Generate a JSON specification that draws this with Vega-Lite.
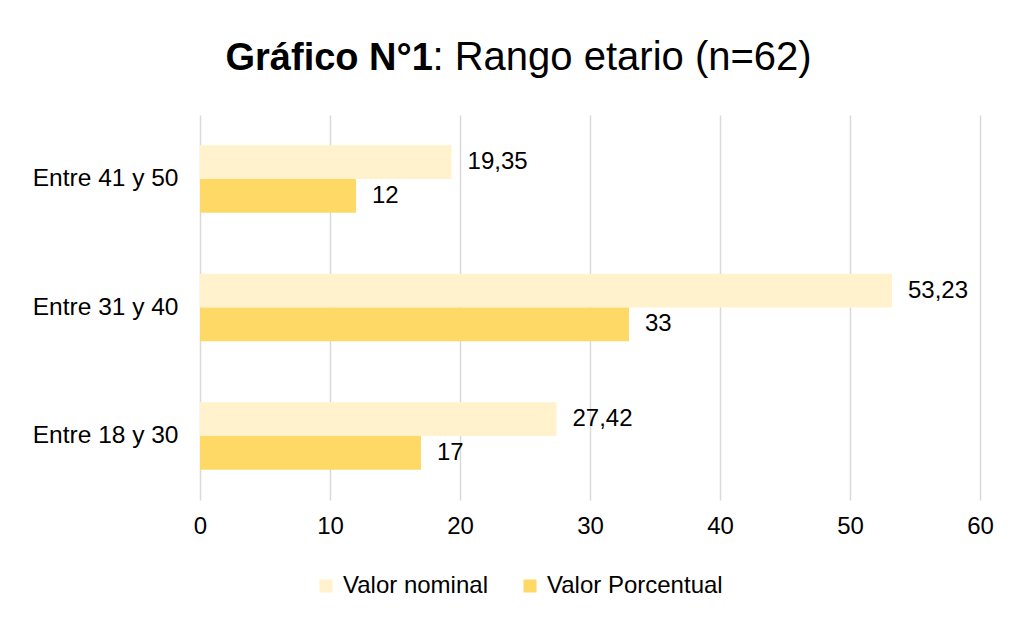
{
  "$schema": "https://vega.github.io/schema/vega-lite/v6.json",
  "autosize": {"type": "none"},
  "width": 780,
  "height": 385,
  "padding": {"left": 200, "top": 115, "right": 34, "bottom": 117},
  "background": "white",
  "config": {
    "font": "Liberation Sans",
    "view": {"stroke": null},
    "locale": {"number": {"decimal": ",", "thousands": ".", "grouping": [3], "currency": ["", " €"]}}
  },
  "data": {
    "values": [
      {"rango": "Entre 41 y 50", "serie": "Valor nominal", "valor": 19.35},
      {"rango": "Entre 41 y 50", "serie": "Valor Porcentual", "valor": 12},
      {"rango": "Entre 31 y 40", "serie": "Valor nominal", "valor": 53.23},
      {"rango": "Entre 31 y 40", "serie": "Valor Porcentual", "valor": 33},
      {"rango": "Entre 18 y 30", "serie": "Valor nominal", "valor": 27.42},
      {"rango": "Entre 18 y 30", "serie": "Valor Porcentual", "valor": 17}
    ]
  },
  "encoding": {
    "y": {
      "field": "rango",
      "type": "nominal",
      "sort": ["Entre 41 y 50", "Entre 31 y 40", "Entre 18 y 30"],
      "scale": {"paddingInner": 0.475, "paddingOuter": 0.235},
      "axis": {
        "title": ": Rango etario (n=62)",
        "titleAngle": 0,
        "titleX": 232,
        "titleY": -46,
        "titleAlign": "left",
        "titleBaseline": "alphabetic",
        "titleFontWeight": "normal",
        "titleFontSize": 40,
        "titleColor": "#000000",
        "domain": false,
        "ticks": false,
        "tickSize": 0,
        "labelPadding": 22,
        "labelFontSize": 24.5,
        "labelColor": "#000000",
        "labelLimit": 300
      }
    },
    "yOffset": {"field": "serie", "sort": ["Valor nominal", "Valor Porcentual"], "scale": {"paddingInner": 0}},
    "x": {
      "field": "valor",
      "type": "quantitative",
      "scale": {"domain": [0, 60], "nice": false},
      "axis": {
        "values": [0, 10, 20, 30, 40, 50, 60],
        "title": "Gráfico N°1",
        "titleFontWeight": "bold",
        "titleFontSize": 38,
        "titleX": 25,
        "titleY": -431,
        "titleAlign": "left",
        "titleBaseline": "alphabetic",
        "titleColor": "#000000",
        "domain": false,
        "ticks": false,
        "tickSize": 0,
        "labelFontSize": 24,
        "labelColor": "#000000",
        "labelPadding": 14,
        "labelFlush": false,
        "grid": true,
        "gridColor": "#D9D9D9",
        "gridWidth": 1.5
      }
    }
  },
  "layer": [
    {
      "mark": {"type": "bar"},
      "encoding": {
        "color": {
          "field": "serie",
          "type": "nominal",
          "scale": {"domain": ["Valor nominal", "Valor Porcentual"], "range": ["#FFF2CC", "#FFD966"]},
          "legend": {
            "title": null,
            "orient": "none",
            "legendX": 114,
            "legendY": 459,
            "direction": "horizontal",
            "symbolType": "square",
            "symbolSize": 170,
            "symbolStrokeWidth": 0,
            "labelFontSize": 24,
            "labelColor": "#000000",
            "labelOffset": 5,
            "labelLimit": 0,
            "columnPadding": 30
          }
        }
      }
    },
    {
      "mark": {"type": "text", "align": "left", "baseline": "middle", "dx": 16, "fontSize": 24, "color": "#000000"},
      "encoding": {
        "text": {"field": "valor", "type": "quantitative", "format": ".2~f"}
      }
    }
  ]
}
